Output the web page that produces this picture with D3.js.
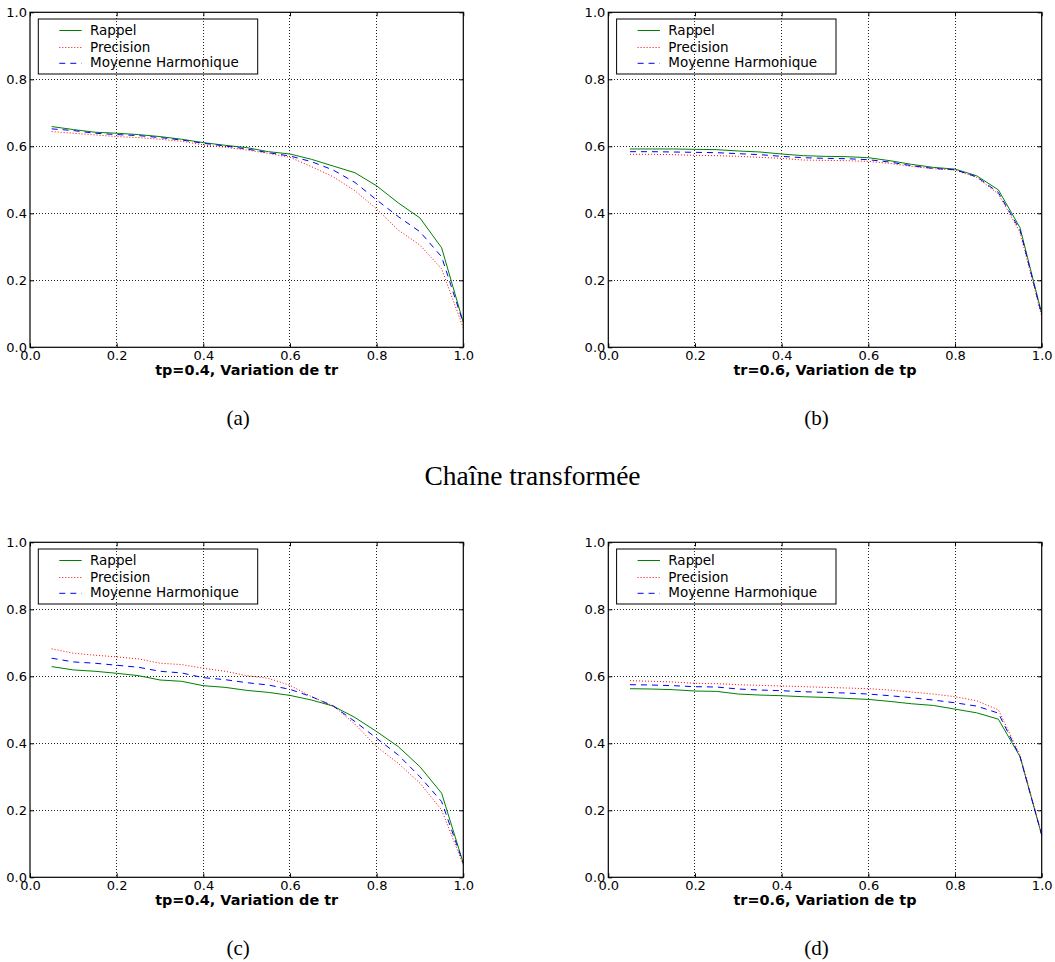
<!DOCTYPE html>
<html><head><meta charset="utf-8">
<script src="https://cdn.jsdelivr.net/npm/d3@7"></script>
<style>body{margin:0;background:#fff}svg{display:block}</style>
</head><body>
<svg id="chart" width="1055" height="962"></svg>
<script>
// ---- data ----
const xValues = [0.05,0.10,0.15,0.20,0.25,0.30,0.35,0.40,0.45,0.50,0.55,0.60,0.65,0.70,0.75,0.80,0.85,0.90,0.95,1.00];

const rappelA     = [0.659,0.650,0.642,0.639,0.635,0.629,0.621,0.611,0.603,0.596,0.584,0.577,0.561,0.541,0.521,0.482,0.431,0.386,0.297,0.074];
const precisionA  = [0.644,0.639,0.634,0.629,0.626,0.621,0.615,0.604,0.597,0.589,0.579,0.567,0.539,0.509,0.467,0.413,0.350,0.305,0.234,0.058];
const harmoniqueA = [0.652,0.647,0.639,0.635,0.632,0.626,0.619,0.609,0.601,0.592,0.581,0.571,0.554,0.529,0.492,0.440,0.390,0.345,0.270,0.072];

const rappelB     = [0.592,0.592,0.592,0.591,0.590,0.586,0.583,0.577,0.572,0.570,0.569,0.566,0.557,0.546,0.537,0.532,0.512,0.470,0.357,0.101];
const precisionB  = [0.576,0.576,0.575,0.573,0.572,0.570,0.567,0.564,0.559,0.558,0.557,0.555,0.549,0.540,0.533,0.529,0.507,0.458,0.343,0.092];
const harmoniqueB = [0.584,0.584,0.583,0.582,0.581,0.578,0.575,0.570,0.566,0.564,0.563,0.560,0.553,0.542,0.534,0.530,0.509,0.462,0.350,0.097];

const rappelC     = [0.629,0.619,0.615,0.609,0.602,0.589,0.585,0.572,0.567,0.558,0.552,0.543,0.529,0.511,0.477,0.435,0.390,0.330,0.251,0.042];
const precisionC  = [0.682,0.669,0.663,0.658,0.652,0.639,0.635,0.624,0.615,0.602,0.594,0.573,0.539,0.512,0.457,0.390,0.340,0.281,0.201,0.037];
const harmoniqueC = [0.654,0.643,0.639,0.633,0.627,0.615,0.610,0.596,0.590,0.581,0.574,0.561,0.539,0.511,0.465,0.415,0.365,0.300,0.226,0.042];

const rappelD     = [0.563,0.562,0.560,0.556,0.555,0.547,0.544,0.542,0.539,0.537,0.534,0.531,0.525,0.518,0.513,0.502,0.491,0.472,0.360,0.126];
const precisionD  = [0.587,0.585,0.583,0.579,0.578,0.575,0.573,0.571,0.569,0.567,0.565,0.563,0.559,0.553,0.547,0.539,0.527,0.500,0.365,0.129];
const harmoniqueD = [0.575,0.574,0.572,0.569,0.568,0.562,0.559,0.557,0.554,0.552,0.550,0.547,0.542,0.536,0.529,0.521,0.511,0.490,0.360,0.126];

const tickValues = [0.0,0.2,0.4,0.6,0.8,1.0];
const tickLabels = ["0.0","0.2","0.4","0.6","0.8","1.0"];
const seriesNames = ["Rappel","Precision","Moyenne Harmonique"];
const xAxisLabels = ["tp=0.4, Variation de tr","tr=0.6, Variation de tp","tp=0.4, Variation de tr","tr=0.6, Variation de tp"];
const captions = ["(a)","(b)","(c)","(d)"];
const middleTitle = "Chaîne transformée";

// ---- styles ----
const seriesStyles = [
  {color:"#008000", dash:null},
  {color:"#ff0000", dash:"1,2"},
  {color:"#0000ff", dash:"6,5"}
];

const panels = [
  {x0:30,    x1:463.3,  y0:12.3,  y1:347.3, series:[rappelA,precisionA,harmoniqueA]},
  {x0:608.3, x1:1041.7, y0:12.3,  y1:347.3, series:[rappelB,precisionB,harmoniqueB]},
  {x0:30,    x1:463.3,  y0:542.3, y1:877.3, series:[rappelC,precisionC,harmoniqueC]},
  {x0:608.3, x1:1041.7, y0:542.3, y1:877.3, series:[rappelD,precisionD,harmoniqueD]}
];

const svg = d3.select("#chart");
const sansFont = "'DejaVu Sans', sans-serif";
const serifFont = "'Liberation Serif', 'Times New Roman', serif";

panels.forEach((p, i) => {
  const x = d3.scaleLinear().domain([0,1]).range([p.x0, p.x1]);
  const y = d3.scaleLinear().domain([0,1]).range([p.y1, p.y0]);
  const g = svg.append("g");

  // grid
  const grid = g.append("g").attr("stroke","#222").attr("stroke-width",1)
    .attr("stroke-dasharray","1,2").attr("shape-rendering","crispEdges");
  tickValues.slice(1,-1).forEach(v => {
    grid.append("line").attr("x1",x(v)).attr("x2",x(v)).attr("y1",p.y0).attr("y2",p.y1);
    grid.append("line").attr("x1",p.x0).attr("x2",p.x1).attr("y1",y(v)).attr("y2",y(v));
  });

  // data lines
  const line = d3.line().x((d,k)=>x(xValues[k])).y(d=>y(d));
  p.series.forEach((s, k) => {
    const st = seriesStyles[k];
    const path = g.append("path").datum(s).attr("d", line)
      .attr("fill","none").attr("stroke", st.color).attr("stroke-width",1);
    if (st.dash) path.attr("stroke-dasharray", st.dash);
  });

  // axes (inward ticks)
  const fmt = (d)=> tickLabels[tickValues.indexOf(d)];
  const bottom = g.append("g").attr("transform",`translate(0,${p.y1})`)
    .call(d3.axisBottom(x).tickValues(tickValues).tickFormat(fmt).tickSizeInner(-4).tickSizeOuter(0).tickPadding(3));
  const left = g.append("g").attr("transform",`translate(${p.x0},0)`)
    .call(d3.axisLeft(y).tickValues(tickValues).tickFormat(fmt).tickSizeInner(-4).tickSizeOuter(0).tickPadding(3));
  const top = g.append("g").attr("transform",`translate(0,${p.y0})`)
    .call(d3.axisTop(x).tickValues(tickValues).tickFormat("").tickSizeInner(-4).tickSizeOuter(0));
  const right = g.append("g").attr("transform",`translate(${p.x1},0)`)
    .call(d3.axisRight(y).tickValues(tickValues).tickFormat("").tickSizeInner(-4).tickSizeOuter(0));
  [bottom,left,top,right].forEach(a => {
    a.select(".domain").remove();
    a.selectAll(".tick line").attr("stroke","#000").attr("stroke-width",1);
    a.selectAll("text").attr("font-family",sansFont).attr("font-size",13).attr("fill","#000");
  });

  // frame
  g.append("rect").attr("x",p.x0).attr("y",p.y0).attr("width",p.x1-p.x0).attr("height",p.y1-p.y0)
    .attr("fill","none").attr("stroke","#000").attr("stroke-width",1.2);

  // x label
  g.append("text").attr("x",(p.x0+p.x1)/2).attr("y",p.y1+28)
    .attr("text-anchor","middle").attr("font-family",sansFont).attr("font-weight","bold")
    .attr("font-size",14.4).text(xAxisLabels[i]);

  // legend
  const lg = g.append("g").attr("transform",`translate(${p.x0+8.3},${p.y0+6.7})`);
  lg.append("rect").attr("width",219.4).attr("height",55).attr("fill","none")
    .attr("stroke","#000").attr("stroke-width",1);
  const rowY = [11.5, 28.5, 44.3];
  seriesNames.forEach((name,k) => {
    const st = seriesStyles[k];
    const l = lg.append("line").attr("x1",21).attr("x2",43.4).attr("y1",rowY[k]).attr("y2",rowY[k])
      .attr("stroke",st.color).attr("stroke-width",1);
    if (st.dash) l.attr("stroke-dasharray",st.dash);
    lg.append("text").attr("x",51.7).attr("y",rowY[k]+4).attr("font-family",sansFont)
      .attr("font-size",13.5).attr("fill","#000").text(name);
  });

  // caption
  g.append("text").attr("x",(p.x0+p.x1)/2-8.5).attr("y",p.y0+412.7).attr("text-anchor","middle")
    .attr("font-family",serifFont).attr("font-size",21).attr("fill","#000").text(captions[i]);
});

svg.append("text").attr("x",532.5).attr("y",485).attr("text-anchor","middle")
  .attr("font-family",serifFont).attr("font-size",27.5).attr("fill","#000").text(middleTitle);
</script>
</body></html>
